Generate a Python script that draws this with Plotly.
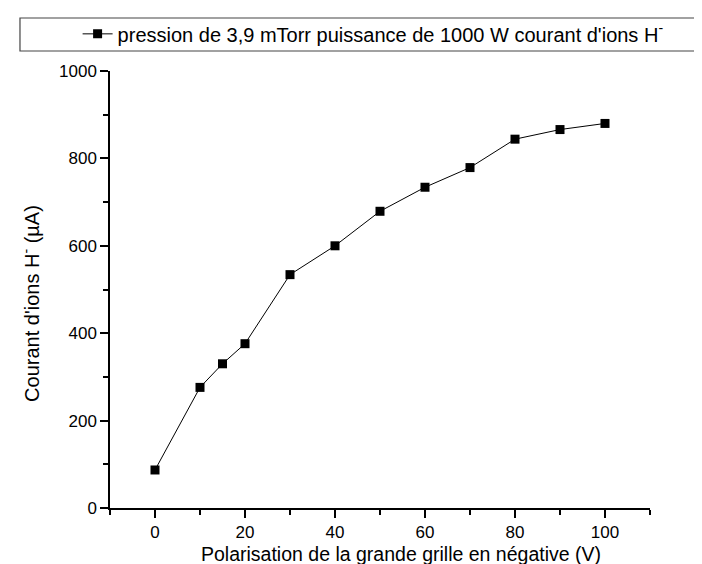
import plotly.graph_objects as go

# Data
polarisation_v = [0, 10, 15, 20, 30, 40, 50, 60, 70, 80, 90, 100]
courant_ua = [87, 276, 330, 376, 534, 600, 679, 734, 779, 844, 866, 880]

series_name = "pression de 3,9 mTorr puissance de 1000 W courant d'ions H<sup>-</sup>"
x_title = "Polarisation de la grande grille en négative (V)"
y_title = "Courant d'ions H<sup>-</sup> (µA)"

FONT = "Liberation Sans, Arial, sans-serif"

fig = go.Figure()
fig.add_trace(go.Scatter(
    x=polarisation_v, y=courant_ua, mode="lines+markers", name=series_name,
    line=dict(color="black", width=1),
    marker=dict(symbol="square", size=9, color="black"),
))

axis_common = dict(
    showline=True, linecolor="black", linewidth=1.5,
    ticks="outside", ticklen=8, tickwidth=1.5, tickcolor="black",
    showgrid=False, zeroline=False, automargin=False,
    tickfont=dict(family=FONT, size=17, color="black"),
)

fig.update_xaxes(range=[-10, 110], dtick=20, tick0=0,
                 minor=dict(dtick=10, tick0=0, ticks="outside", ticklen=5, tickwidth=1.5,
                            tickcolor="black"),
                 **axis_common)
fig.update_yaxes(range=[0, 1000], dtick=200, tick0=0,
                 minor=dict(dtick=100, tick0=0, ticks="outside", ticklen=5, tickwidth=1.5,
                            tickcolor="black"),
                 **axis_common)

fig.update_layout(
    width=702, height=564,
    margin=dict(l=102, r=60, t=63, b=64, autoexpand=False),
    plot_bgcolor="white", paper_bgcolor="white",
    font=dict(family=FONT, color="black"),
    showlegend=True,
    legend=dict(x=-0.06, y=1.085,
                xanchor="left", yanchor="middle",
                bgcolor="rgba(0,0,0,0)", borderwidth=0,
                font=dict(family=FONT, size=20, color="black")),
    shapes=[dict(type="rect", xref="paper", yref="paper",
                 x0=-0.1667, x1=1.107, y0=1.0458, y1=1.1213,
                 line=dict(color="#444444", width=1.2), fillcolor="rgba(0,0,0,0)")],
    annotations=[
        dict(text=x_title, xref="paper", yref="paper", x=0.539, y=0,
             xanchor="center", yanchor="middle", yshift=-46, showarrow=False,
             font=dict(family=FONT, size=19.5, color="black")),
        dict(text=y_title, xref="paper", yref="paper", x=0, y=0.467,
             xanchor="center", yanchor="middle", xshift=-79, textangle=-90,
             showarrow=False, font=dict(family=FONT, size=20, color="black")),
    ],
)

fig.write_html("out.html")
